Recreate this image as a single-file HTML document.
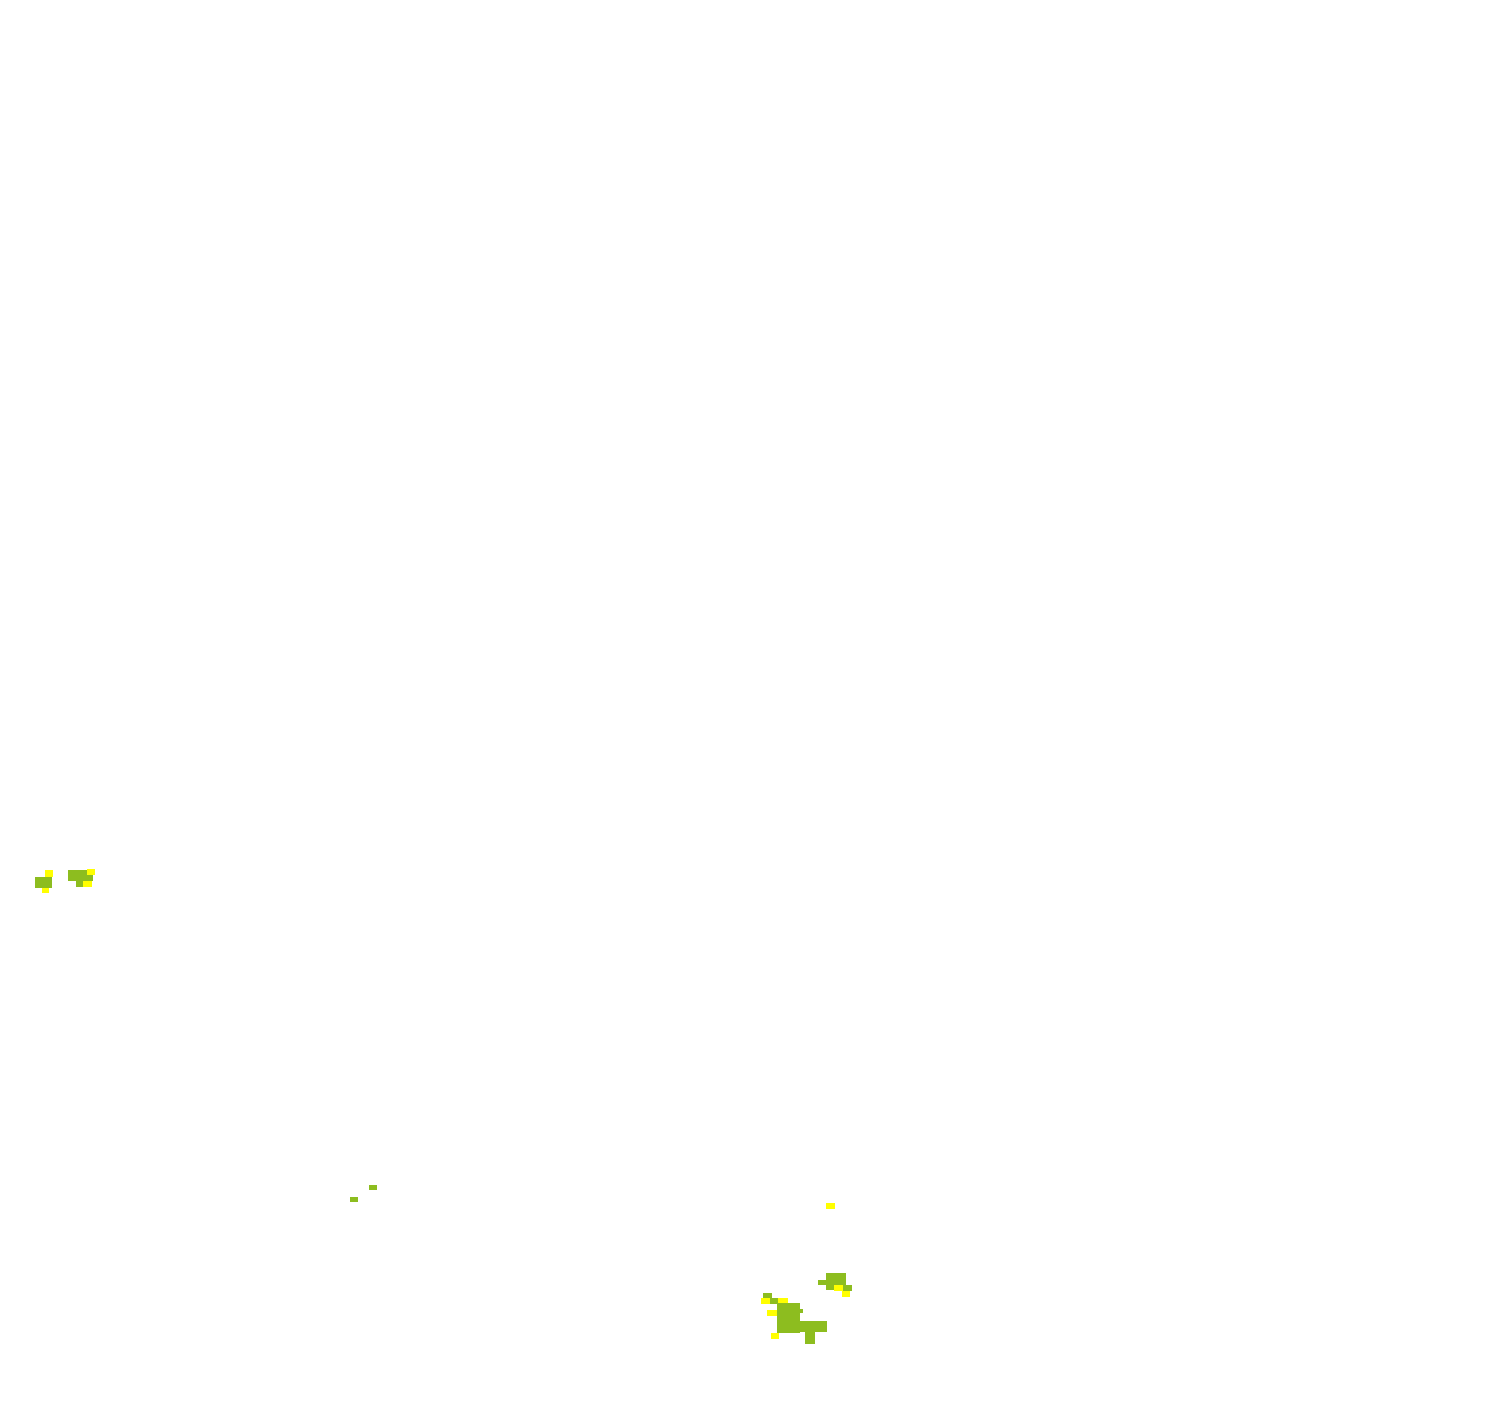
<!DOCTYPE html>
<html><head><meta charset="utf-8"><style>
html,body{margin:0;padding:0;background:#fff;width:1500px;height:1408px;overflow:hidden}
</style></head><body>
<svg width="1500" height="1408" viewBox="0 0 1500 1408" xmlns="http://www.w3.org/2000/svg" shape-rendering="crispEdges">
<g fill="#8dbd1f">
<rect x="35" y="877" width="17" height="11"/>
<rect x="68" y="870" width="25" height="11"/>
<rect x="76" y="881" width="8" height="6"/>
<rect x="350" y="1197" width="8" height="5"/>
<rect x="369" y="1185" width="8" height="5"/>
<rect x="763" y="1293" width="9" height="5"/>
<rect x="770" y="1298" width="8" height="6"/>
<rect x="777" y="1303" width="23" height="30"/>
<rect x="798" y="1321" width="29" height="11"/>
<rect x="805" y="1332" width="10" height="12"/>
<rect x="800" y="1309" width="3" height="4"/>
<rect x="826" y="1273" width="20" height="12"/>
<rect x="818" y="1280" width="10" height="5"/>
<rect x="826" y="1285" width="8" height="5"/>
<rect x="843" y="1285" width="9" height="6"/>
</g>
<g fill="#ffff00">
<rect x="45" y="870" width="8" height="7"/>
<rect x="42" y="888" width="7" height="5"/>
<rect x="87" y="869" width="8" height="6"/>
<rect x="83" y="881" width="9" height="6"/>
<rect x="826" y="1203" width="9" height="6"/>
<rect x="761" y="1298" width="9" height="6"/>
<rect x="778" y="1298" width="10" height="5"/>
<rect x="767" y="1310" width="10" height="6"/>
<rect x="771" y="1333" width="8" height="6"/>
<rect x="834" y="1285" width="9" height="6"/>
<rect x="842" y="1291" width="8" height="6"/>
</g>
</svg>
</body></html>
